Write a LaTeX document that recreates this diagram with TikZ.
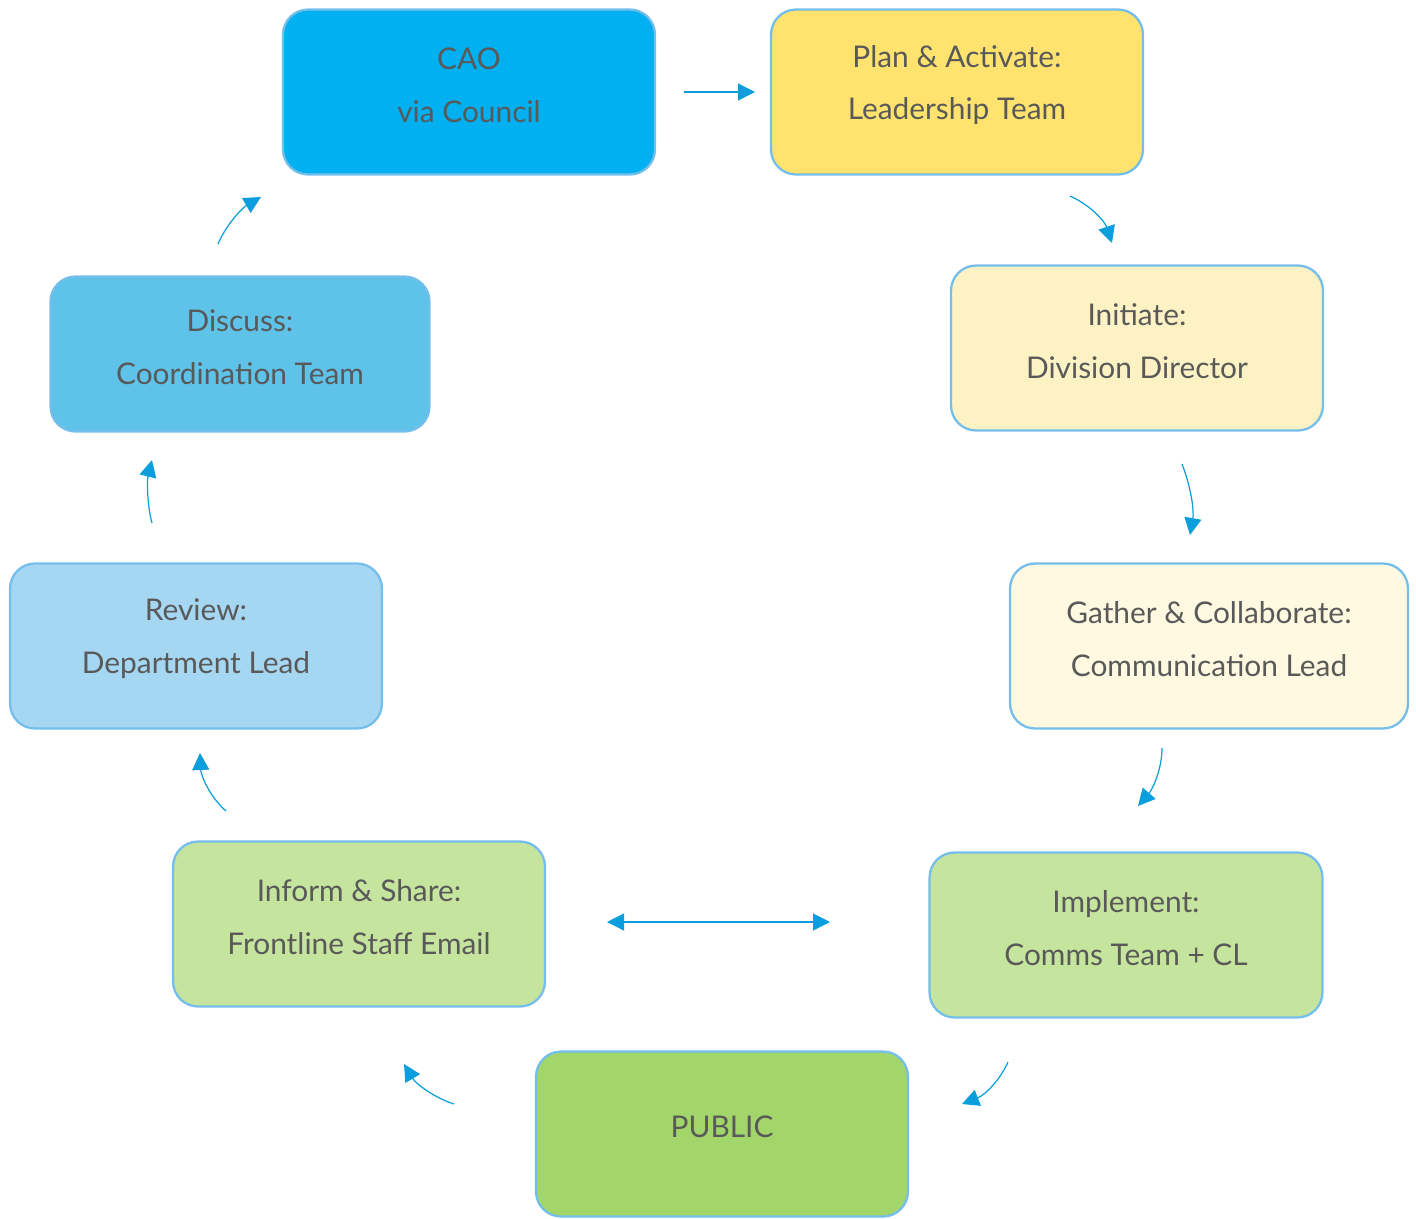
\documentclass[tikz,border=0pt]{standalone}
\usepackage{fontspec}
\setmainfont{Lato}
\usetikzlibrary{arrows.meta}
\definecolor{caoblue}{HTML}{00B0F0}
\definecolor{planyellow}{HTML}{FFE36E}
\definecolor{initcream}{HTML}{FDF2C3}
\definecolor{gathercream}{HTML}{FEF9E0}
\definecolor{implgreen}{HTML}{C5E59E}
\definecolor{publicgreen}{HTML}{A3D66A}
\definecolor{reviewblue}{HTML}{A6D7F2}
\definecolor{discussblue}{HTML}{5FC2E8}
\definecolor{edgeblue}{HTML}{74BEEB}
\definecolor{flowblue}{HTML}{0A9EDC}
\definecolor{textgrey}{HTML}{595959}
\begin{document}
\begin{tikzpicture}[x=0.02cm,y=-0.02cm,
  stagebox/.style={draw=edgeblue,line width=1.3pt,rounded corners=0.5cm,
    minimum width=7.44cm,minimum height=3.3cm},
  boxtext/.style={align=center,text=textgrey,yshift=0.14cm,
    font=\fontsize{17}{30}\selectfont},
  flow/.style={draw=flowblue,line width=0.7pt,-{Triangle[length=0.34cm,width=0.34cm]}},
  twoway/.style={flow,{Triangle[length=0.34cm,width=0.34cm]}-{Triangle[length=0.34cm,width=0.34cm]}}]
\useasboundingbox (0,0) rectangle (1416,1218);
% stages
\node[stagebox,fill=caoblue,label={[boxtext]center:CAO\\via Council}] (cao) at (469,92) {};
\node[stagebox,fill=planyellow,label={[boxtext]center:Plan \& Activate:\\Leadership Team}] (plan) at (957,92) {};
\node[stagebox,fill=initcream,label={[boxtext]center:Initiate:\\Division Director}] (initiate) at (1137,348) {};
\node[stagebox,fill=gathercream,minimum width=7.96cm,label={[boxtext]center:Gather \& Collaborate:\\Communication Lead}] (gather) at (1209,646) {};
\node[stagebox,fill=implgreen,minimum width=7.86cm,label={[boxtext]center:Implement:\\Comms Team + CL}] (implement) at (1126,935) {};
\node[stagebox,fill=publicgreen,label={[boxtext]center:PUBLIC}] (public) at (722,1134) {};
\node[stagebox,fill=implgreen,label={[boxtext]center:Inform \& Share:\\Frontline Staff Email}] (inform) at (359,924) {};
\node[stagebox,fill=reviewblue,label={[boxtext]center:Review:\\Department Lead}] (review) at (196,646) {};
\node[stagebox,fill=discussblue,minimum width=7.58cm,minimum height=3.1cm,label={[boxtext]center:Discuss:\\Coordination Team}] (discuss) at (240,354) {};
% arrow ends
\coordinate (cao-out) at (684,92);
\coordinate (plan-in) at (755,92);
\coordinate (plan-out) at (1070,196);
\coordinate (init-in) at (1112,243);
\coordinate (init-out) at (1182,464);
\coordinate (gather-in) at (1190,535);
\coordinate (gather-out) at (1162,748);
\coordinate (impl-in) at (1138,806);
\coordinate (impl-out) at (1008,1062);
\coordinate (public-in) at (962,1104);
\coordinate (public-out) at (454,1104);
\coordinate (inform-in) at (404,1064);
\coordinate (inform-side) at (607,922);
\coordinate (impl-side) at (830,922);
\coordinate (inform-out) at (226,811);
\coordinate (review-in) at (200,753);
\coordinate (review-out) at (152,523);
\coordinate (discuss-in) at (152,460);
\coordinate (discuss-out) at (218,244);
\coordinate (cao-in) at (261,197);
% flow
\draw[flow] (cao-out) -- (plan-in);
\draw[flow] (plan-out) .. controls (1092,206) and (1105,222) .. (init-in);
\draw[flow] (init-out) .. controls (1192,490) and (1194,512) .. (gather-in);
\draw[flow] (gather-out) .. controls (1162,770) and (1152,790) .. (impl-in);
\draw[flow] (impl-out) .. controls (1000,1080) and (985,1095) .. (public-in);
\draw[flow] (public-out) .. controls (435,1098) and (416,1084) .. (inform-in);
\draw[twoway] (inform-side) -- (impl-side);
\draw[flow] (inform-out) .. controls (210,797) and (201,776) .. (review-in);
\draw[flow] (review-out) .. controls (147,505) and (147,480) .. (discuss-in);
\draw[flow] (discuss-out) .. controls (226,225) and (242,208) .. (cao-in);
\end{tikzpicture}
\end{document}
